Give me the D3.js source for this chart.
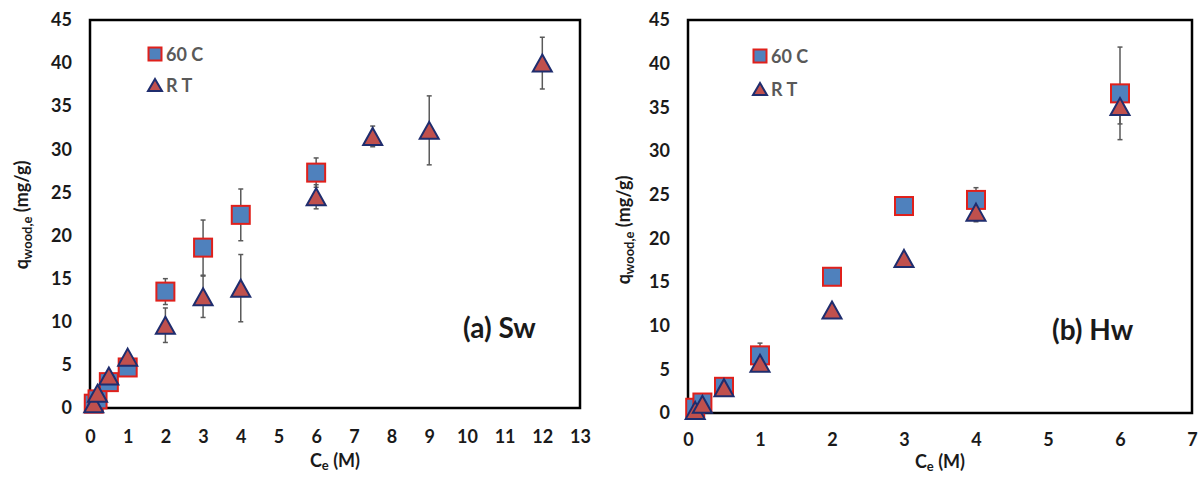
<!DOCTYPE html>
<html>
<head>
<meta charset="utf-8">
<script src="https://cdn.jsdelivr.net/npm/d3@7"></script>
<style>
  body { margin: 0; background: #fff; }
  text { font-family: Lato, "Open Sans", sans-serif; font-weight: bold; }
</style>
</head>
<body>
<div id="chart"></div>
<script>
// DATA

// (a) Sw
const swX60 = [0.1, 0.2, 0.5, 1, 2, 3, 4, 6]
const swY60 = [0.5, 1.0, 3.0, 4.7, 13.5, 18.6, 22.4, 27.3]
const swE60 = [0, 0, 0, 0, 1.5, 3.2, 3.0, 1.7]
const swXRT = [0.1, 0.2, 0.5, 1, 2, 3, 4, 6, 7.5, 9, 12]
const swYRT = [0.5, 1.7, 3.7, 5.9, 9.6, 12.9, 13.9, 24.5, 31.5, 32.2, 40.0]
const swERT = [0, 0, 0, 0, 2.0, 2.4, 3.9, 1.4, 1.2, 4.0, 3.0]

// (b) Hw
const hwX = [0.1, 0.2, 0.5, 1, 2, 3, 4, 6]
const hwY60 = [0.6, 1.2, 3.0, 6.6, 15.6, 23.7, 24.4, 36.6]
const hwE60 = [0, 0, 0, 1.4, 0, 0.8, 1.4, 5.3]
const hwYRT = [0.3, 1.0, 2.9, 5.7, 11.8, 17.7, 23.0, 35.1]
const hwERT = [0, 0, 0, 0, 0, 0, 1.1, 2.0]

const swXTicks = d3.range(0, 14, 1)
const hwXTicks = d3.range(0, 8, 1)
const yTicks = d3.range(0, 50, 5)
const seriesNames = ["60 C", "R T"]

// CHART AREA

let svg = d3.select("#chart").append("svg")
    .attr("width", 1199)
    .attr("height", 477)

svg.append("rect").attr("width", 1199).attr("height", 477).attr("fill", "#fff")

function zip(xs, ys, es) {
    return xs.map((x, i) => ({x: x, y: ys[i], e: es[i]}))
}

function triPath(w, h) {
    return "M0," + (-h / 2) + "L" + (w / 2) + "," + (h / 2) + "L" + (-w / 2) + "," + (h / 2) + "Z"
}

function drawPanel(opt) {
    let x = d3.scaleLinear().domain(opt.xDomain).range([opt.left, opt.right])
    let y = d3.scaleLinear().domain([0, 45]).range([opt.bottom, opt.top])
    let g = svg.append("g")

    // x tick labels
    g.append("g")
        .attr("transform", "translate(0," + opt.bottom + ")")
        .call(d3.axisBottom(x).tickValues(opt.xTicks).tickSize(0).tickPadding(opt.xPad).tickFormat(d3.format("d")))
        .call(a => a.select(".domain").remove())
        .selectAll("text")
        .attr("font-size", 18).attr("fill", "#1a1a1a")
        .style("font-family", "Lato, sans-serif").style("font-weight", "bold")

    // y tick labels
    g.append("g")
        .attr("transform", "translate(" + opt.left + ",0)")
        .call(d3.axisLeft(y).tickValues(yTicks).tickSize(0).tickPadding(18))
        .call(a => a.select(".domain").remove())
        .selectAll("text")
        .attr("font-size", 18).attr("fill", "#1a1a1a")
        .style("font-family", "Lato, sans-serif").style("font-weight", "bold")

    // frame
    g.append("rect")
        .attr("x", opt.left).attr("y", opt.top)
        .attr("width", opt.right - opt.left).attr("height", opt.bottom - opt.top)
        .attr("fill", "none").attr("stroke", "#000").attr("stroke-width", 2.5)

    let s60 = opt.s60
    let sRT = opt.sRT

    // error bars
    let errs = s60.concat(sRT).filter(d => d.e > 0)
    errs.forEach(d => {
        g.append("line")
            .attr("x1", x(d.x)).attr("x2", x(d.x))
            .attr("y1", y(d.y - d.e)).attr("y2", y(d.y + d.e))
            .attr("stroke", "#595959").attr("stroke-width", 1.5)
        ;[d.y - d.e, d.y + d.e].forEach(v => {
            g.append("line")
                .attr("x1", x(d.x) - 2.5).attr("x2", x(d.x) + 2.5)
                .attr("y1", y(v)).attr("y2", y(v))
                .attr("stroke", "#595959").attr("stroke-width", 1.5)
        })
    })

    // 60 C squares
    g.selectAll(".sq").data(s60).enter()
        .append("rect")
        .attr("x", d => x(d.x) - 9)
        .attr("y", d => y(d.y) - 9)
        .attr("width", 18).attr("height", 18)
        .attr("fill", "#4f81bd")
        .attr("stroke", "#e0201b").attr("stroke-width", 2)

    // RT triangles
    g.selectAll(".tri").data(sRT).enter()
        .append("path")
        .attr("d", triPath(19, 17))
        .attr("transform", d => "translate(" + x(d.x) + "," + y(d.y) + ")")
        .attr("fill", "#c0504d")
        .attr("stroke", "#1f2d6e").attr("stroke-width", 2)

    // legend
    let lg = g.append("g").attr("transform", "translate(" + opt.legX + "," + opt.legY + ")")
    lg.append("rect").attr("x", -6.5).attr("y", -6.5).attr("width", 13).attr("height", 13)
        .attr("fill", "#4f81bd").attr("stroke", "#e0201b").attr("stroke-width", 2)
    lg.append("path").attr("d", triPath(14, 12)).attr("transform", "translate(0," + opt.legGap + ")")
        .attr("fill", "#c0504d").attr("stroke", "#1f2d6e").attr("stroke-width", 2)
    seriesNames.forEach((n, i) => {
        lg.append("text").attr("x", 11).attr("y", i * opt.legGap + 6.5)
            .attr("font-size", 18).attr("fill", "#595959").text(n)
    })

    // panel annotation
    g.append("text")
        .attr("x", opt.annX).attr("y", opt.annY)
        .attr("font-size", 28).attr("fill", "#1a1a1a")
        .text(opt.ann)

    // y axis title
    let yt = g.append("text")
        .attr("transform", "translate(" + opt.yTitleX + "," + opt.yTitleY + ") rotate(-90)")
        .attr("text-anchor", "middle")
        .attr("font-size", 18).attr("fill", "#1a1a1a")
    yt.append("tspan").text("q")
    yt.append("tspan").attr("font-size", 13).attr("dy", 4).text("wood,e")
    yt.append("tspan").attr("dy", -4).text(" (mg/g)")

    // x axis title
    let xt = g.append("text")
        .attr("x", opt.xTitleX).attr("y", opt.xTitleY)
        .attr("text-anchor", "middle")
        .attr("font-size", 18).attr("fill", "#1a1a1a")
    xt.append("tspan").text("C")
    xt.append("tspan").attr("font-size", 13).attr("dy", 3).text("e")
    xt.append("tspan").attr("dy", -3).text(" (M)")
}

drawPanel({
    xDomain: [0, 13], xTicks: swXTicks,
    left: 90, right: 580, top: 20, bottom: 408, xPad: 22,
    s60: zip(swX60, swY60, swE60), sRT: zip(swXRT, swYRT, swERT),
    legX: 155, legY: 54, legGap: 31,
    ann: "(a) Sw", annX: 463, annY: 338,
    yTitleX: 28, yTitleY: 215, xTitleX: 335, xTitleY: 467
})

drawPanel({
    xDomain: [0, 7], xTicks: hwXTicks,
    left: 688, right: 1192, top: 20, bottom: 413, xPad: 20,
    s60: zip(hwX, hwY60, hwE60), sRT: zip(hwX, hwYRT, hwERT),
    legX: 760, legY: 56, legGap: 33,
    ann: "(b) Hw", annX: 1052, annY: 340,
    yTitleX: 630, yTitleY: 230, xTitleX: 940, xTitleY: 468
})
</script>
</body>
</html>
